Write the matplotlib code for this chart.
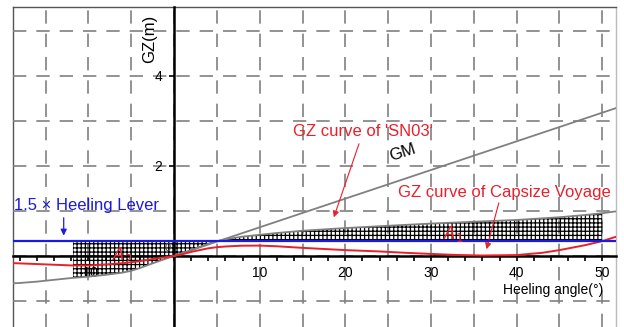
import numpy as np
import matplotlib
matplotlib.use("Agg")
import matplotlib.pyplot as plt

plt.rcParams['font.family'] = ['Liberation Sans', 'DejaVu Sans']

# ---- data ----
sn03_angle = [-20, -18, -16, -14, -12, -10, -8, -6, -5, -4, -3, -2, -1, 0, 1, 2, 3, 4, 5, 6, 7, 8, 10, 12, 15, 20, 25, 30, 35, 40, 45, 48, 50, 52]
sn03_gz = [-0.62, -0.60, -0.57, -0.53, -0.49, -0.46, -0.42, -0.37, -0.33, -0.27, -0.20, -0.13, -0.065, 0.0, 0.065, 0.13, 0.20, 0.27, 0.33, 0.37, 0.40, 0.43, 0.47, 0.51, 0.56, 0.62, 0.67, 0.72, 0.76, 0.80, 0.86, 0.91, 0.95, 1.0]

cap_angle = [-20, -16, -12, -10, -8, -6, -5, -4, -3, -2, -1, 0, 1, 2, 3, 4, 5, 6, 7, 8, 10, 12, 15, 20, 24, 27, 30, 33, 36, 40, 43, 45, 48, 50, 52]
cap_gz = [-0.15, -0.18, -0.21, -0.21, -0.19, -0.16, -0.14, -0.115, -0.085, -0.055, -0.028, 0.0, 0.04, 0.09, 0.13, 0.17, 0.195, 0.21, 0.22, 0.228, 0.23, 0.215, 0.18, 0.13, 0.10, 0.07, 0.045, 0.022, 0.01, 0.02, 0.07, 0.13, 0.24, 0.33, 0.45]

gm_angle = [0, 52]
gm_gz = [0.0, 3.31]

heeling_lever = 0.34          # 1.5 x heeling lever (m)
area_start, area_end = -11.8, 50.0

xticks = [-10, 10, 20, 30, 40, 50]
yticks = [2, 4]

RED = '#e8202a'
BLUE = '#1a1ae0'
GRAY = '#808080'

plt.rcParams['hatch.linewidth'] = 0.9

fig = plt.figure(figsize=(6.24, 3.27), dpi=100)
rect = [13 / 624, 0.0, 603 / 624, 1 - 7 / 327]

# frame axes
fr = fig.add_axes(rect, zorder=0)
fr.set_xticks([]); fr.set_yticks([])
fr.spines['bottom'].set_visible(False)
fr.spines['left'].set_color('#555555')
fr.spines['top'].set_color('#555555')
fr.spines['right'].set_color('#bbbbbb')
for s in fr.spines.values():
    s.set_linewidth(1.0)

ax = fig.add_axes(rect, zorder=1)
ax.patch.set_alpha(0)
ax.set_xlim(-18.8, 51.6)
ax.set_ylim(-1.578, 5.53)

# grid
for gx in np.arange(-15, 55, 5):
    ax.axvline(gx, color=GRAY, lw=1.2, ls=(0, (8, 6)), zorder=0.5)
for gy in np.arange(-1, 6, 1):
    ax.axhline(gy, color=GRAY, lw=1.2, ls=(0, (8, 6)), zorder=0.5)

# axes through origin
for k in ['top', 'right']:
    ax.spines[k].set_visible(False)
ax.spines['left'].set_position(('data', 0))
ax.spines['bottom'].set_position(('data', 0))
ax.spines['left'].set_linewidth(1.8)
ax.spines['bottom'].set_linewidth(1.8)
ax.set_axisbelow(True)

ax.set_xticks(xticks)
ax.set_xticklabels([str(t) for t in xticks])
ax.set_xticks(np.arange(-18, 52, 2), minor=True)
ax.set_yticks(yticks)
ax.set_yticklabels([str(t) for t in yticks])
ax.tick_params(axis='x', which='both', direction='out', length=3.5, width=1.2, labelsize=10, pad=4)
ax.tick_params(axis='y', which='both', direction='out', length=3.5, width=1.2, labelsize=10, pad=5)

# curves
ax.plot(gm_angle, gm_gz, color=GRAY, lw=1.3, zorder=3)
ax.plot(sn03_angle, sn03_gz, color=GRAY, lw=1.3, zorder=3)
ax.plot(cap_angle, cap_gz, color=RED, lw=1.4, zorder=4)
ax.axhline(heeling_lever, color=BLUE, lw=1.6, zorder=4)

# hatched areas
xf = np.linspace(area_start, area_end, 400)
yf = np.interp(xf, sn03_angle, sn03_gz)
ax.fill_between(xf, heeling_lever, yf, facecolor='none', edgecolor='black',
                hatch='++++', linewidth=0, zorder=2.6)

# labels / annotations
ax.text(-2.8, 4.82, 'GZ(m)', rotation=90, ha='center', va='center', fontsize=12)
ax.text(-0.7, 0.17, '0', ha='center', va='center', fontsize=8, color='#444444')
ax.text(44.3, -0.76, 'Heeling angle(°)', ha='center', va='center', fontsize=10)

ax.text(-18.68, 1.13, '1.5 × Heeling Lever', ha='left', va='center', fontsize=12, color=BLUE)
ax.annotate('', xy=(-12.88, heeling_lever + 0.05), xytext=(-12.88, 0.91),
            arrowprops=dict(arrowstyle='-|>', color=BLUE, lw=0.9, mutation_scale=9))

ax.text(22.1, 2.76, "GZ curve of 'SN03'", ha='center', va='center', fontsize=12, color=RED)
ax.annotate('', xy=(18.55, 0.8), xytext=(21.7, 2.55),
            arrowprops=dict(arrowstyle='-|>', color=RED, lw=0.8, mutation_scale=9))

ax.text(26.7, 2.29, 'GM', ha='center', va='center', fontsize=12, rotation=18)

ax.text(38.6, 1.42, 'GZ curve of Capsize Voyage', ha='center', va='center', fontsize=12, color=RED)
ax.annotate('', xy=(36.4, 0.09), xytext=(38.0, 1.24),
            arrowprops=dict(arrowstyle='-|>', color=RED, lw=0.8, mutation_scale=9))

ax.text(32.6, 0.49, r'$A_1$', ha='center', va='center', fontsize=12, color=RED, zorder=5)
ax.text(-6.1, 0.02, r'$A_2$', ha='center', va='center', fontsize=12, color=RED, zorder=5)

fig.savefig('out.png', dpi=100)
